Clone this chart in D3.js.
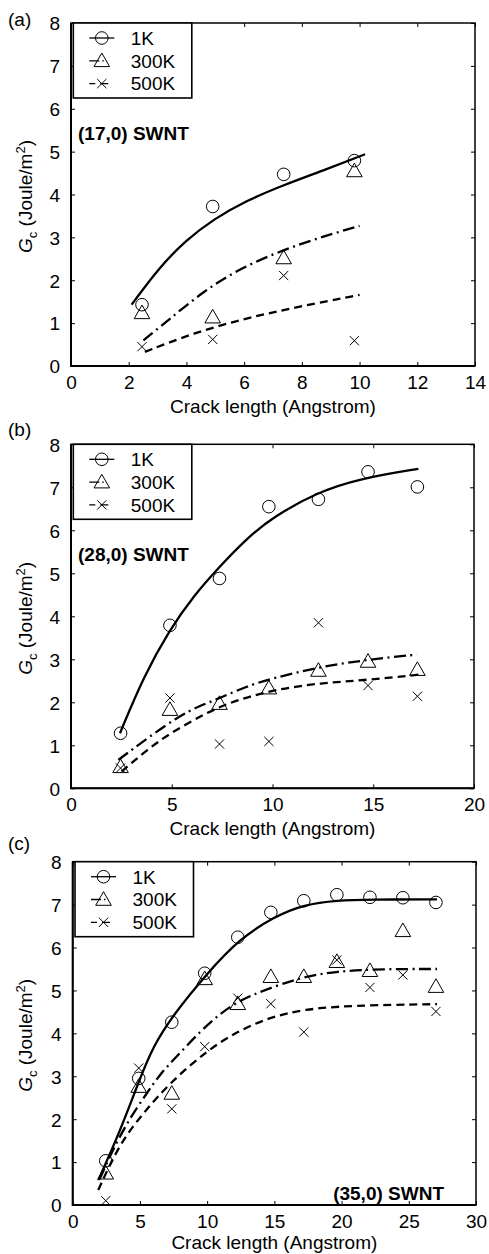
<!DOCTYPE html>
<html>
<head>
<meta charset="utf-8">
<script src="https://cdn.jsdelivr.net/npm/d3@7"></script>
<style>
  html, body { margin: 0; padding: 0; background: #fff; }
  svg { display: block; }
  text { font-family: "Liberation Sans", Arial, Helvetica, sans-serif; fill: #000; }
</style>
</head>
<body>
<svg id="chart" width="489" height="1254"></svg>
<script>
// ---- Data -------------------------------------------------------------
// Crack lengths (Angstrom) at which G_c was computed
const crackA = [2.46, 4.91, 7.37, 9.82];
const crackB = [2.46, 4.91, 7.37, 9.82, 12.28, 14.74, 17.19];
const crackC = [2.46, 4.91, 7.37, 9.82, 12.28, 14.74, 17.19, 19.65, 22.11, 24.56, 27.02];

// (17,0) SWNT, critical energy release rate G_c (J/m^2)
const gcA1K   = [1.43, 3.72, 4.47, 4.79];
const gcA300K = [1.24, 1.14, 2.52, 4.55];
const gcA500K = [0.45, 0.62, 2.11, 0.59];

// (28,0) SWNT
const gcB1K   = [1.28, 3.79, 4.88, 6.55, 6.72, 7.36, 7.01];
const gcB300K = [0.50, 1.83, 1.97, 2.33, 2.74, 2.95, 2.76];
const gcB500K = [0.47, 2.10, 1.03, 1.09, 3.85, 2.39, 2.14];

// (35,0) SWNT
const gcC1K   = [1.03, 2.95, 4.26, 5.40, 6.24, 6.82, 7.09, 7.23, 7.17, 7.16, 7.05];
const gcC300K = [0.74, 2.76, 2.60, 5.27, 4.69, 5.32, 5.32, 5.67, 5.46, 6.39, 5.09];
const gcC500K = [0.10, 3.19, 2.24, 3.69, 4.82, 4.69, 4.03, 5.71, 5.07, 5.36, 4.51];

// Fitted trend curves, as [crack length, G_c] pairs
const fitA1K   = [[2.10,1.43],[3.08,2.32],[4.00,2.94],[4.93,3.42],[6.09,3.86],[7.36,4.22],[8.86,4.59],[10.19,4.94]];
const fitA300K = [[2.51,0.60],[3.32,1.04],[4.58,1.74],[5.86,2.28],[7.36,2.71],[8.74,3.02],[10.0,3.27]];
const fitA500K = [[2.56,0.33],[4.24,0.77],[6.09,1.12],[7.93,1.39],[10.0,1.66]];

const fitB1K   = [[2.43,1.28],[3.60,2.60],[4.90,3.69],[6.07,4.47],[7.40,5.17],[8.70,5.80],[10.0,6.30],[12.2,6.88],[14.3,7.20],[17.24,7.43]];
const fitB300K = [[2.35,0.66],[3.80,1.17],[5.33,1.67],[6.30,1.90],[7.40,2.10],[8.70,2.37],[10.0,2.56],[12.4,2.83],[14.7,2.99],[17.16,3.11]];
const fitB500K = [[2.51,0.39],[3.76,0.89],[4.91,1.28],[6.40,1.67],[7.73,1.98],[10.0,2.29],[12.4,2.45],[14.75,2.52],[17.4,2.65]];

const fitC1K   = [[1.90,0.58],[3.50,1.70],[5.00,2.95],[6.00,3.70],[7.40,4.40],[10.0,5.40],[12.4,6.20],[15.0,6.72],[17.2,7.00],[19.7,7.10],[22.0,7.12],[27.1,7.12]];
const fitC300K = [[2.00,0.60],[3.00,1.30],[4.20,2.00],[5.50,2.60],[6.50,3.05],[7.70,3.45],[9.50,4.05],[11.0,4.47],[12.5,4.78],[14.2,5.00],[16.9,5.30],[19.6,5.45],[23.0,5.50],[27.1,5.50]];
const fitC500K = [[1.90,0.35],[3.50,1.44],[5.25,2.14],[7.20,2.84],[10.0,3.60],[12.2,4.04],[14.7,4.38],[17.2,4.56],[20.6,4.65],[27.1,4.68]];

// Axis ticks
const yTicks  = [0, 1, 2, 3, 4, 5, 6, 7, 8];
const xTicksA = [0, 2, 4, 6, 8, 10, 12, 14];
const xTicksB = [0, 5, 10, 15, 20];
const xTicksC = [0, 5, 10, 15, 20, 25, 30];

const seriesNames = ["1K", "300K", "500K"];

// ---- Layout -----------------------------------------------------------
const panels = [
  { tag: "(a)", tube: "(17,0) SWNT", frame: { l: 71,   r: 475, t: 23,    b: 366 },
    xMax: 14, xTicks: xTicksA, tagY: 26, titleGap: 47, tubePos: "left",
    crack: crackA, values: [gcA1K, gcA300K, gcA500K], fits: [fitA1K, fitA300K, fitA500K] },
  { tag: "(b)", tube: "(28,0) SWNT", frame: { l: 71,   r: 474, t: 444.3, b: 788.3 },
    xMax: 20, xTicks: xTicksB, tagY: 436, titleGap: 47, tubePos: "left",
    crack: crackB, values: [gcB1K, gcB300K, gcB500K], fits: [fitB1K, fitB300K, fitB500K] },
  { tag: "(c)", tube: "(35,0) SWNT", frame: { l: 72.7, r: 476, t: 861.7, b: 1205 },
    xMax: 30, xTicks: xTicksC, tagY: 850, titleGap: 43.5, tubePos: "right",
    crack: crackC, values: [gcC1K, gcC300K, gcC500K], fits: [fitC1K, fitC300K, fitC500K] }
];

const FONT = 19;
const lineDash = [null, "12,4.5,2,4.5", "8,5"];
const svg = d3.select("#chart");

// Marker painters
function drawMarker(g, kind, x, y) {
  if (kind === 0) {
    g.append("circle").attr("cx", x).attr("cy", y).attr("r", 6.3)
      .attr("fill", "none").attr("stroke", "#000").attr("stroke-width", 1);
  } else if (kind === 1) {
    const hw = 7.8, up = 7.8, dn = 5.8;
    g.append("path")
      .attr("d", `M${x},${y - up}L${x + hw},${y + dn}L${x - hw},${y + dn}Z`)
      .attr("fill", "none").attr("stroke", "#000").attr("stroke-width", 1);
  } else {
    const s = 4.6;
    g.append("path")
      .attr("d", `M${x - s},${y - s}L${x + s},${y + s}M${x - s},${y + s}L${x + s},${y - s}`)
      .attr("fill", "none").attr("stroke", "#000").attr("stroke-width", 1);
  }
}

panels.forEach(p => {
  const f = p.frame;
  const x = d3.scaleLinear().domain([0, p.xMax]).range([f.l, f.r]);
  const y = d3.scaleLinear().domain([0, 8]).range([f.b, f.t]);
  const g = svg.append("g");

  // Ticks on all four sides, pointing inward
  const tickLen = 4;
  const bottomAxis = d3.axisBottom(x).tickValues(p.xTicks).tickSizeInner(-tickLen).tickSizeOuter(0).tickFormat(d3.format("d"));
  const topAxis = d3.axisTop(x).tickValues(p.xTicks).tickSizeInner(-tickLen).tickSizeOuter(0).tickFormat("");
  const leftAxis = d3.axisLeft(y).tickValues(yTicks).tickSizeInner(-tickLen).tickSizeOuter(0).tickFormat(d3.format("d"));
  const rightAxis = d3.axisRight(y).tickValues(yTicks).tickSizeInner(-tickLen).tickSizeOuter(0).tickFormat("");

  const gb = g.append("g").attr("transform", `translate(0,${f.b})`).call(bottomAxis);
  const gt = g.append("g").attr("transform", `translate(0,${f.t})`).call(topAxis);
  const gl = g.append("g").attr("transform", `translate(${f.l},0)`).call(leftAxis);
  const gr = g.append("g").attr("transform", `translate(${f.r},0)`).call(rightAxis);
  [gb, gt, gl, gr].forEach(a => {
    a.select(".domain").remove();
    a.selectAll(".tick line").attr("stroke", "#000").attr("stroke-width", 1);
    a.selectAll("text").attr("font-size", FONT).attr("font-family", null).attr("fill", "#000");
  });
  gb.selectAll("text").attr("dy", null).attr("y", 23);
  gl.selectAll("text").attr("x", -11).attr("dy", "0.36em");

  // Plot frame
  g.append("rect").attr("x", f.l).attr("y", f.t).attr("width", f.r - f.l).attr("height", f.b - f.t)
    .attr("fill", "none").attr("stroke", "#000").attr("stroke-width", 1.5);
  g.append("path").attr("d", `M${f.l},${f.t}V${f.b}H${f.r}`)
    .attr("fill", "none").attr("stroke", "#000").attr("stroke-width", 2);

  // Fitted curves
  const line = d3.line().x(d => x(d[0])).y(d => y(d[1])).curve(d3.curveBasis);
  p.fits.forEach((fit, i) => {
    g.append("path").attr("d", line(fit)).attr("fill", "none")
      .attr("stroke", "#000").attr("stroke-width", 2.3)
      .attr("stroke-dasharray", lineDash[i]);
  });

  // Simulation points
  p.values.forEach((vals, i) => {
    vals.forEach((v, j) => drawMarker(g, i, x(p.crack[j]), y(v)));
  });

  // Legend
  const lg = g.append("g");
  const lx = f.l + 2.3, lw = 118.5, lh = 75;
  lg.append("rect").attr("x", lx).attr("y", f.t).attr("width", lw).attr("height", lh)
    .attr("fill", "#fff").attr("stroke", "#000").attr("stroke-width", 1.6);
  const legendDash = [null, "10,3,1.5,30", "6,5,8,6"];
  seriesNames.forEach((name, i) => {
    const ry = f.t + 15 + i * 22.8;
    lg.append("line").attr("x1", lx + 16).attr("x2", lx + 41).attr("y1", ry).attr("y2", ry)
      .attr("stroke", "#000").attr("stroke-width", 1.3).attr("stroke-dasharray", legendDash[i]);
    drawMarker(lg, i, lx + 28.5, ry);
    lg.append("text").attr("x", lx + 57.5).attr("y", ry).attr("dy", "0.36em")
      .attr("font-size", FONT).text(name);
  });

  // Panel tag
  g.append("text").attr("x", 8).attr("y", p.tagY).attr("font-size", FONT).text(p.tag);

  // Nanotube label
  const tube = g.append("text").attr("font-size", FONT).attr("font-weight", "bold").text(p.tube);
  if (p.tubePos === "left") {
    tube.attr("x", f.l + 7).attr("y", f.t + 117);
  } else {
    tube.attr("x", f.r - 32).attr("y", f.b - 5).attr("text-anchor", "end");
  }

  // Axis titles
  g.append("text").attr("x", (f.l + f.r) / 2).attr("y", f.b + p.titleGap)
    .attr("text-anchor", "middle").attr("font-size", FONT).text("Crack length (Angstrom)");

  const yl = g.append("text")
    .attr("transform", `translate(32,${(f.t + f.b) / 2 + 2}) rotate(-90)`)
    .attr("text-anchor", "middle").attr("font-size", FONT);
  yl.append("tspan").attr("font-style", "italic").text("G");
  yl.append("tspan").attr("font-size", 13).attr("dy", 5).text("c");
  yl.append("tspan").attr("dy", -5).text(" (Joule/m");
  yl.append("tspan").attr("font-size", 13).attr("dy", -7).text("2");
  yl.append("tspan").attr("dy", 7).text(")");
});
</script>
</body>
</html>
